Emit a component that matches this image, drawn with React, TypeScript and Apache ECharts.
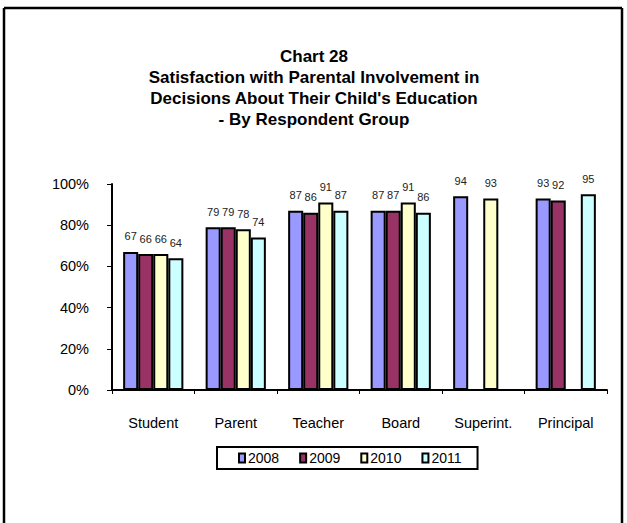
import React, { useEffect, useRef } from "react";
import * as echarts from "echarts";

const categories = ["Student", "Parent", "Teacher", "Board", "Superint.", "Principal"];
const seriesNames = ["2008", "2009", "2010", "2011"];
const values2008 = [67, 79, 87, 87, 94, 93];
const values2009 = [66, 79, 86, 87, null, 92];
const values2010 = [66, 78, 91, 91, 93, null];
const values2011 = [64, 74, 87, 86, null, 95];
const colors = ["#9999FF", "#993366", "#FFFFCC", "#CCFFFF"];
const yTicks = [0, 20, 40, 60, 80, 100];
const titleLines = [
  "Chart 28",
  "Satisfaction with Parental Involvement in",
  "Decisions About Their Child's Education",
  "- By Respondent Group",
];

export default function App() {
  const ref = useRef<HTMLDivElement>(null);
  useEffect(() => {
    document.body.style.margin = "0";
    if (!ref.current) return;
    const chart = echarts.init(ref.current, null, { renderer: "svg" });
    const allValues = [values2008, values2009, values2010, values2011];
    const font = "Liberation Sans, Arial, sans-serif";
    chart.setOption({
      animation: false,
      backgroundColor: "#ffffff",
      title: {
        text: titleLines.join("\n"),
        left: 314,
        textAlign: "center",
        top: 46,
        padding: 0,
        textStyle: {
          fontFamily: font,
          fontSize: 17,
          fontWeight: "bold",
          color: "#000",
          lineHeight: 21,
        },
      },
      graphic: [
        { type: "line", shape: { x1: 4, y1: 8, x2: 622, y2: 8 }, style: { stroke: "#000", lineWidth: 2.5 } },
        { type: "line", shape: { x1: 4, y1: 8, x2: 4, y2: 523 }, style: { stroke: "#000", lineWidth: 2.5 } },
        { type: "line", shape: { x1: 622, y1: 8, x2: 622, y2: 523 }, style: { stroke: "#000", lineWidth: 2.5 } },
      ],
      legend: {
        data: seriesNames,
        left: 217,
        top: 447,
        itemWidth: 6,
        itemHeight: 9,
        itemGap: 20,
        padding: [4, 16, 4, 21],
        borderColor: "#000",
        borderWidth: 2,
        icon: "rect",
        textStyle: { fontFamily: font, fontSize: 14, color: "#000", padding: [0, 0, 0, -2] },
      },
      grid: { left: 112, right: 20, top: 184, bottom: 133 },
      xAxis: {
        type: "category",
        data: categories,
        axisLine: { lineStyle: { color: "#000", width: 2 } },
        axisTick: { show: true, length: 4, lineStyle: { color: "#000" } },
        axisLabel: { fontFamily: font, fontSize: 14.5, color: "#000", margin: 25 },
      },
      yAxis: {
        type: "value",
        min: 0,
        max: 100,
        interval: 20,
        splitLine: { show: false },
        axisLine: { show: true, lineStyle: { color: "#000", width: 2 } },
        axisTick: { show: true, length: 5, lineStyle: { color: "#000" } },
        axisLabel: {
          fontFamily: font,
          fontSize: 14.5,
          color: "#000",
          margin: 23,
          formatter: (v: number) => (yTicks.includes(v) ? v + "%" : ""),
        },
      },
      series: seriesNames.map((name, i) => ({
        name,
        type: "bar",
        data: allValues[i],
        barGap: "0%",
        barCategoryGap: "27%",
        itemStyle: { color: colors[i], borderColor: "#000", borderWidth: 2 },
        label: {
          show: true,
          position: "top",
          distance: 10,
          fontFamily: font,
          fontSize: 11,
          color: "#222",
        },
      })),
    });
    return () => chart.dispose();
  }, []);
  return <div ref={ref} style={{ width: 627, height: 523 }} />;
}
